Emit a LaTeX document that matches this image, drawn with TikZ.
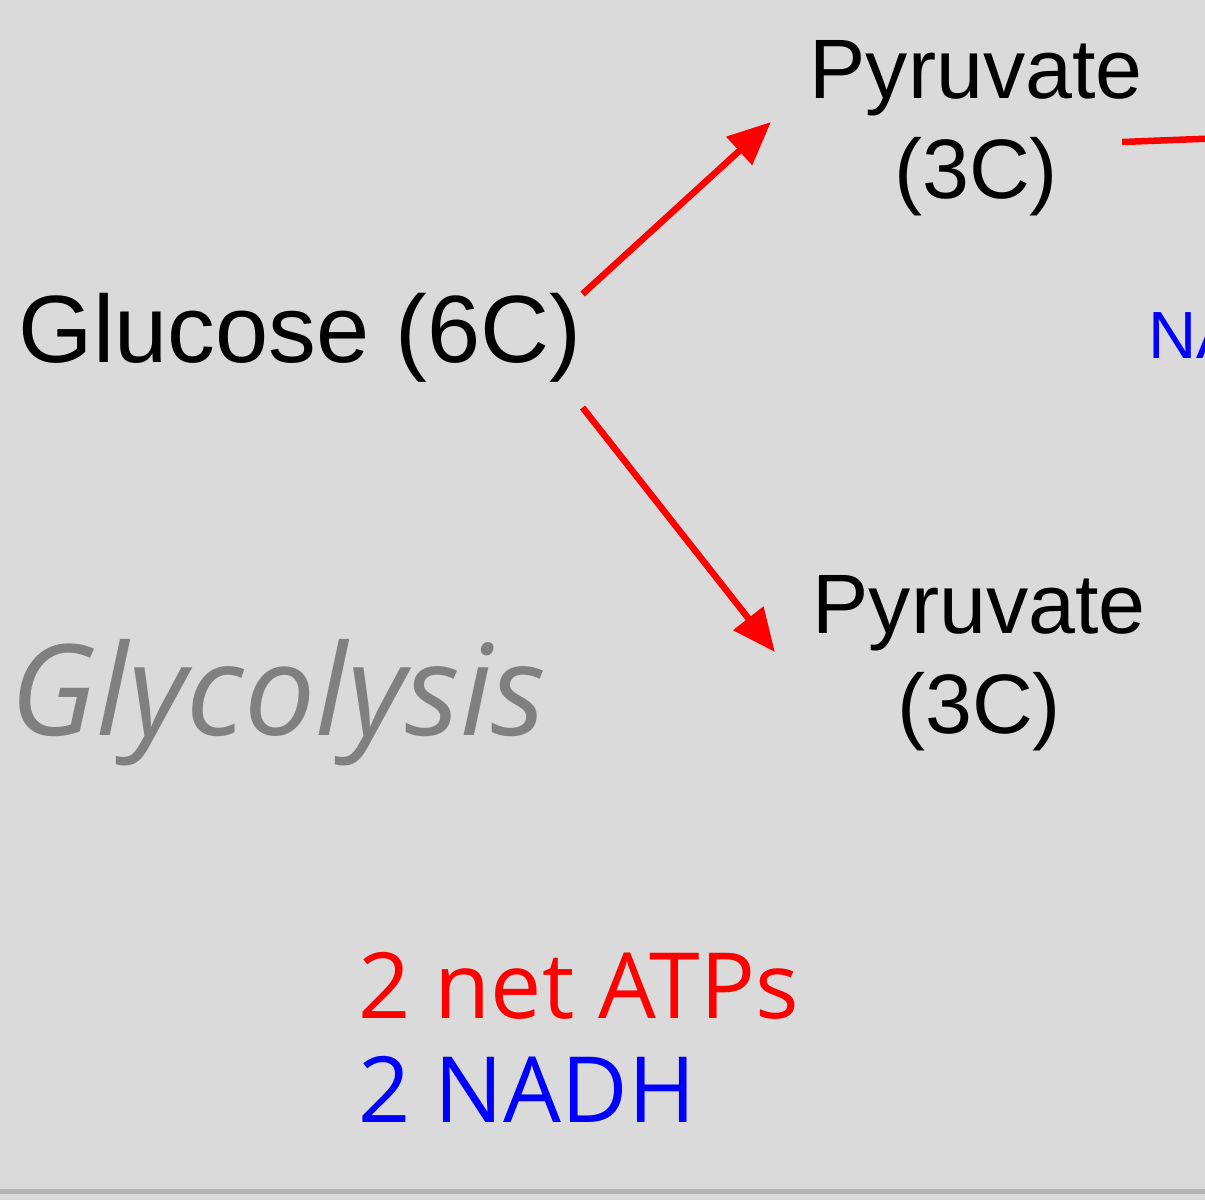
\documentclass[tikz,border=0pt]{standalone}
\usepackage{fontspec}
\setmainfont{Liberation Sans}
\newfontfamily\comicfont{Open Sans}
\usetikzlibrary{arrows.meta}
\definecolor{bggray}{HTML}{DADADA}
\definecolor{edgegray}{HTML}{B4B4B4}
\definecolor{labelgray}{HTML}{808080}
\definecolor{pathred}{HTML}{FF0000}
\definecolor{nadhblue}{HTML}{0000FF}

\begin{document}
\begin{tikzpicture}[flow/.style={pathred, line width=0.065cm, -{Triangle[length=0.43cm, width=0.37cm]}},
	molecule/.style={inner sep=0pt, align=center, font=\fontsize{24}{28.5}\selectfont}]

			% page and background
			\useasboundingbox (0,0) rectangle (12.05,-12.00);
			\clip (0,0) rectangle (12.05,-12.00);
			\fill[bggray] (0,0) rectangle (12.05,-12.00);
			\draw[edgegray, line width=0.05cm] (0,-11.91) -- (12.05,-11.91);

			% molecules
			\node[inner sep=0pt, anchor=base west, font=\fontsize{27.2}{32}\selectfont] (glu) at (0.18,-3.62) {Glucose (6C)};
			\node[molecule] (pyrA) at (9.76,-1.28) {Pyruvate\\(3C)};
			\node[molecule] (pyrB) at (9.79,-6.63) {Pyruvate\\(3C)};

			% labels
			\node[inner sep=0pt, anchor=base west, text=labelgray, font=\comicfont\itshape\fontsize{36}{42}\selectfont] (glyc) at (0.10,-7.35) {Glycolysis};
			\node[inner sep=0pt, anchor=base west, text=pathred, font=\comicfont\fontsize{26}{30}\selectfont] (atp) at (3.58,-10.18) {2 net ATPs};
			\node[inner sep=0pt, anchor=base west, text=nadhblue, font=\comicfont\fontsize{26}{30}\selectfont] (nadh) at (3.58,-11.22) {2 NADH};
			\node[inner sep=0pt, anchor=base west, text=nadhblue, font=\fontsize{19}{22}\selectfont] (nadhB) at (11.48,-3.58) {NA};

			% glucose splits into two pyruvates
			\coordinate (krebs) at (13.00,-1.35);
			\draw[flow] ([yshift=-0.02cm]glu.north east) -- ([xshift=-0.38cm, yshift=0.06cm]pyrA.west);
			\draw[flow] ([yshift=-0.25cm]glu.south east) -- ([xshift=-0.37cm, yshift=0.11cm]pyrB.west);
			\draw[pathred, line width=0.065cm] ([xshift=-0.21cm, yshift=-0.14cm]pyrA.east) -- (krebs);

		\end{tikzpicture}
\end{document}
